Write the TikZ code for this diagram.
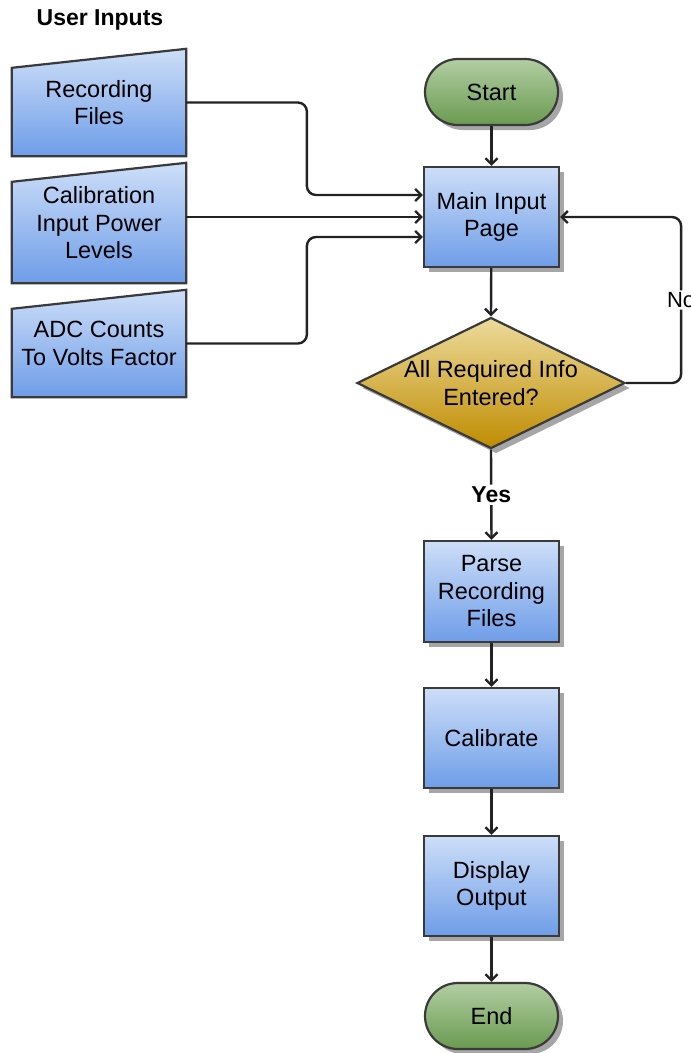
\documentclass[tikz,border=0pt]{standalone}
\usepackage{fontspec}
\setmainfont{Liberation Sans}
\usetikzlibrary{shapes.geometric,shadows,arrows.meta,calc,backgrounds}

\definecolor{edge}{HTML}{3A3A3A}
\definecolor{wire}{HTML}{222222}
\definecolor{boxtop}{HTML}{CDDEF8}
\definecolor{boxbot}{HTML}{6E9DE8}
\definecolor{grntop}{HTML}{B2CEA3}
\definecolor{grnbot}{HTML}{6A9A50}
\definecolor{goldtop}{HTML}{EDDB9C}
\definecolor{goldbot}{HTML}{BF8C00}

\tikzset{
  txt/.style={font=\fontsize{23.5}{27.5}\selectfont, align=center, inner sep=0pt},
  shadowed/.style={drop shadow={shadow xshift=5pt, shadow yshift=-5pt, fill=black!35, opacity=1}},
  base/.style={txt, draw=edge, line width=2.2pt},
  process/.style={base, rectangle, minimum width=135pt, minimum height=100pt,
    top color=boxtop, bottom color=boxbot, shadowed},
  terminal/.style={base, rectangle, rounded corners=33pt, minimum width=133pt,
    minimum height=66pt, top color=grntop, bottom color=grnbot, shadowed},
  decision/.style={base, diamond, minimum width=268pt, minimum height=131pt,
    top color=goldtop, bottom color=goldbot, shadowed},
  inputbox/.style={txt, rectangle, minimum width=174pt, minimum height=107pt},
  manual/.style={draw=edge, line width=2.2pt, top color=boxtop, bottom color=boxbot},
  conn/.style={draw=wire, line width=2.4pt, rounded corners=9pt,
    -{Straight Barb[length=6pt,width=12pt]}},
  tag/.style={fill=white, inner sep=2pt, font=\fontsize{22}{25}\selectfont},
}

\begin{document}
\begin{tikzpicture}[x=1pt,y=-1pt]
  \useasboundingbox (0,0) rectangle (691,1053);

  % left column: user supplied inputs
  \node[font=\bfseries\fontsize{23}{27}\selectfont] (title) at (100,20) {User Inputs};
  \node[inputbox] (rec) at (99,102.5) {Recording\\Files};
  \node[inputbox, minimum height=120pt] (cal) at (99,223) {Calibration\\Input Power\\Levels};
  \node[inputbox] (adc) at (99,343.5) {ADC Counts\\To Volts Factor};

  % manual-input outlines behind the input texts
  \begin{pgfonlayer}{background}
    \foreach \n in {rec,cal,adc}
      \path[manual] (\n.south west) -- (\n.south east) -- (\n.north east)
        -- ($(\n.north west)+(0,19)$) -- cycle;
  \end{pgfonlayer}

  % main flow
  \node[terminal] (start) at (491.5,92) {Start};
  \node[process] (main) at (491.5,217) {Main Input\\Page};
  \node[decision] (dec) at (491,383) {};
  \node[txt] (dectext) at (dec.center) {All Required Info\\Entered?};
  \node[process, minimum height=101pt] (parse) at (491.5,591.5) {Parse\\Recording\\Files};
  \node[process] (calib) at (491.5,738) {Calibrate};
  \node[process] (disp) at (491.5,886) {Display\\Output};
  \node[terminal] (end) at (491.5,1016) {End};

  % inputs into the main page
  \draw[conn] (rec.east) -| ($(main.west)+(-116,-22)$) -- ($(main.west)+(0,-22)$);
  \draw[conn] (cal.east |- main.west) -- (main.west);
  \draw[conn] (adc.east) -| ($(main.west)+(-116,20)$) -- ($(main.west)+(0,20)$);

  % flow connectors
  \draw[conn] (start) -- (main);
  \draw[conn] (main) -- (dec.north);
  \draw[conn] (dec.east) -- ++(55,0) |- (main.east) node[tag, pos=0.25] {No};
  \draw[conn] (dec.south) -- (parse.north)
    node[tag, midway, font=\bfseries\fontsize{23}{27}\selectfont] {Yes};
  \draw[conn] (parse) -- (calib);
  \draw[conn] (calib) -- (disp);
  \draw[conn] (disp) -- (end);
\end{tikzpicture}
\end{document}
